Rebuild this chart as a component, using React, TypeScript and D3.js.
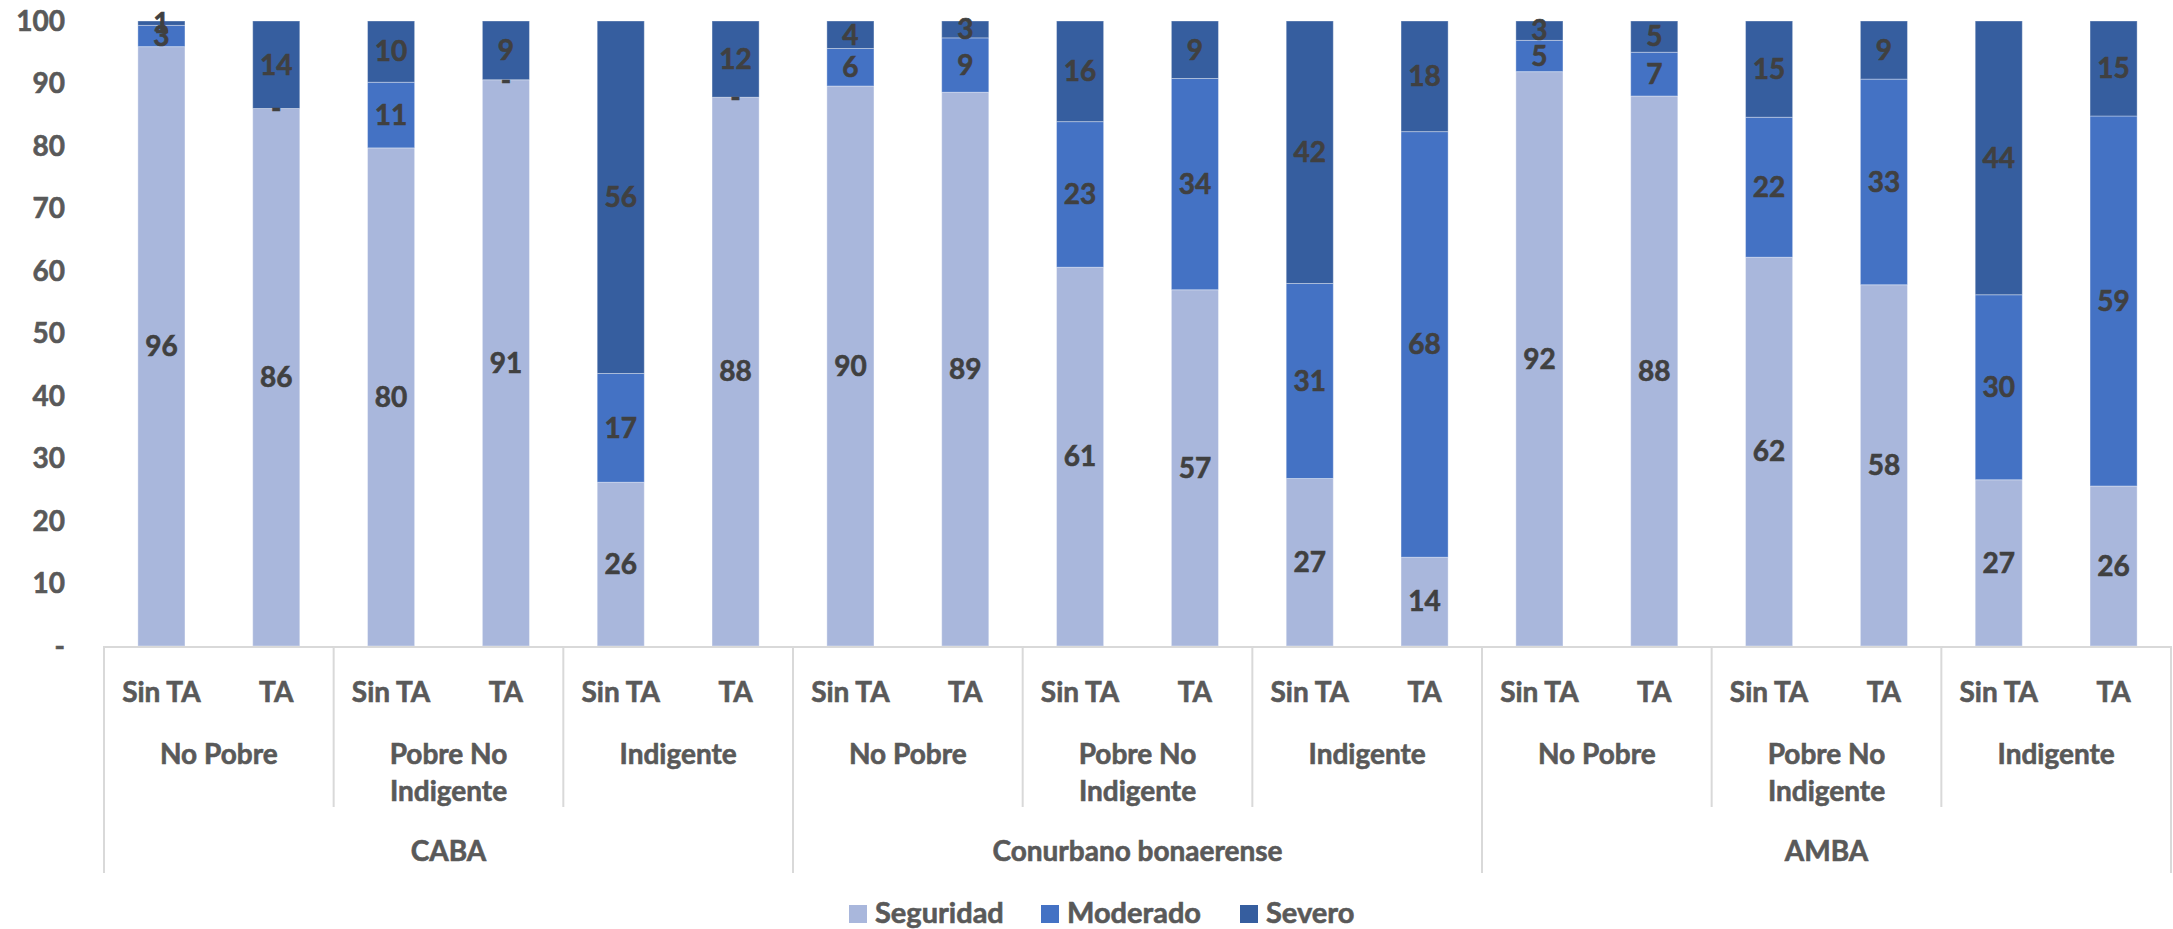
import React from "react";
import * as d3 from "d3";

const regions = ["CABA", "Conurbano bonaerense", "AMBA"];
const povertyGroups = [["No Pobre"], ["Pobre No", "Indigente"], ["Indigente"]];
const taGroups = ["Sin TA", "TA"];
const seriesNames = ["Seguridad", "Moderado", "Severo"];
const seriesColors = ["#A9B7DC", "#4472C4", "#365E9F"];

const seguridad = [95.9, 86.0, 79.7, 90.6, 26.2, 87.8, 89.6, 88.6, 60.6, 57.0, 26.8, 14.2, 91.9, 88.0, 62.2, 57.8, 26.6, 25.6];
const moderado = [3.4, 0, 10.5, 0, 17.4, 0, 6.0, 8.7, 23.3, 33.8, 31.2, 68.1, 5.0, 7.0, 22.4, 32.9, 29.6, 59.2];
const severo = [0.7, 14.0, 9.8, 9.4, 56.4, 12.2, 4.4, 2.7, 16.1, 9.2, 42.0, 17.7, 3.1, 5.0, 15.4, 9.3, 43.8, 15.2];
const yTicks = [0, 10, 20, 30, 40, 50, 60, 70, 80, 90, 100];

const W = 2173;
const H = 929;
const left = 104;
const right = 2171;
const top = 21;
const base = 646;
const FONT = "Lato, 'Open Sans', sans-serif";
const FS = 28;

export default function App() {
  const n = seguridad.length;
  const idx = d3.range(n);
  const x = d3.scaleBand<number>().domain(idx).range([left, right]).paddingInner(0.59).paddingOuter(0.295);
  const step = (right - left) / n;
  const y = d3.scaleLinear().domain([0, 100]).range([base, top]);
  const table = idx.map((i) => ({ i, Seguridad: seguridad[i], Moderado: moderado[i], Severo: severo[i] }));
  const stacked = d3.stack<any>().keys(seriesNames)(table);
  const fmt = (v: number) => (v === 0 ? "-" : d3.format(".0f")(v));
  const tickFmt = (v: number) => (v === 0 ? "-" : String(v));

  const pairCount = n / 2;
  const lineColor = "#D9D9D9";
  const legendX = [849, 1041, 1240];

  const txt = (fill: string) => ({
    fontSize: FS,
    fontWeight: 700,
    fill,
    stroke: fill,
    strokeWidth: 0.6,
    paintOrder: "stroke" as any,
  });

  return (
    <svg width={W} height={H} style={{ position: "absolute", left: 0, top: 0, background: "#fff" }} fontFamily={FONT}>
      {yTicks.map((t) => (
        <text key={t} x={65} y={y(t)} dy="0.35em" textAnchor="end" {...txt("#595959")}>
          {tickFmt(t)}
        </text>
      ))}
      {stacked.map((s, si) => (
        <g key={s.key} fill={seriesColors[si]}>
          {s.map((d, i) => (
            <rect
              key={i}
              x={x(i)}
              y={y(d[1])}
              width={x.bandwidth()}
              height={Math.max(0, y(d[0]) - y(d[1]))}
              stroke="#ffffff"
              strokeOpacity={0.35}
              strokeWidth={1}
            />
          ))}
        </g>
      ))}
      {stacked.map((s, si) => (
        <g key={"l" + s.key}>
          {s.map((d, i) => (
            <text
              key={i}
              x={(x(i) as number) + x.bandwidth() / 2}
              y={y((d[0] + d[1]) / 2)}
              dy="0.35em"
              textAnchor="middle"
              {...txt("#404040")}
            >
              {fmt(d[1] - d[0])}
            </text>
          ))}
        </g>
      ))}
      <line x1={left} x2={right} y1={base + 1} y2={base + 1} stroke={lineColor} strokeWidth={2} />
      {d3.range(pairCount + 1).map((p) => {
        const xx = left + p * 2 * step;
        const full = p % 3 === 0;
        return <line key={"s" + p} x1={xx} x2={xx} y1={base} y2={full ? 873 : 807} stroke={lineColor} strokeWidth={2} />;
      })}
      {idx.map((i) => (
        <text key={"ta" + i} x={(x(i) as number) + x.bandwidth() / 2} y={692} dy="0.35em" textAnchor="middle" {...txt("#595959")}>
          {taGroups[i % 2]}
        </text>
      ))}
      {d3.range(pairCount).map((p) => {
        const lines = povertyGroups[p % 3];
        const cx = left + (p * 2 + 1) * step;
        return (
          <text key={"pg" + p} x={cx} y={754} textAnchor="middle" {...txt("#595959")}>
            {lines.map((l, li) => (
              <tspan key={li} x={cx} dy={li === 0 ? "0.35em" : 37}>
                {l}
              </tspan>
            ))}
          </text>
        );
      })}
      {regions.map((r, ri) => (
        <text key={r} x={left + (ri * 6 + 3) * step} y={851} dy="0.35em" textAnchor="middle" {...txt("#595959")}>
          {r}
        </text>
      ))}
      {seriesNames.map((s, si) => (
        <g key={"lg" + s}>
          <rect x={legendX[si]} y={905} width={18} height={18} fill={seriesColors[si]} />
          <text x={legendX[si] + 26} y={913} dy="0.35em" {...txt("#595959")} fontSize={29}>
            {s}
          </text>
        </g>
      ))}
    </svg>
  );
}
